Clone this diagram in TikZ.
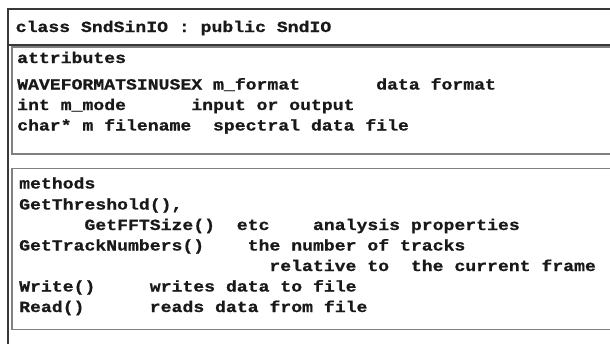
\documentclass[tikz,border=0pt]{standalone}
\usepackage{fontspec}
% Courier-like bold code face, widened to the Courier advance
\newfontfamily\codefont[FakeStretch=1.17,FakeBold=0.8]{Liberation Mono Bold}
\tikzset{
  code/.style={font=\codefont\fontsize{15.5}{18}\selectfont\frenchspacing,
               anchor=base west, inner sep=0pt, text=black!90},
  frameline/.style={draw=black!78, line width=1.1pt},
  boxline/.style={draw=black!50, line width=1.6pt},
}
\begin{document}
\begin{tikzpicture}[x=1pt, y=-1pt]
  \useasboundingbox (0,0) rectangle (610,343);
  \clip (0,0) rectangle (610,343);

  % class frame and title separator
  \draw[frameline] (616,9) -- (8,9) -- (8,349);
  \draw[frameline] (8,45) -- (616,45);

  % attribute and method compartments
  \draw[boxline] (12,46.8) rectangle (620,154);
  \draw[boxline] (12,168.5) rectangle (620,329.5);

  % class header
  \node[code] (title) at (15.5,32) {class SndSinIO : public SndIO};

  % attributes (columns on a 10.88 advance grid)
  \node[code] (attrhead) at (17,63)    {attributes};
  \node[code] (fmt)      at (17,89.5)  {WAVEFORMATSINUSEX m\_format};
  \node[code] (fmtnote)  at (376.0,89.5) {data format};
  \node[code] (mode)     at (17,110)   {int m\_mode};
  \node[code] (modenote) at (191.1,110) {input or output};
  \node[code] (fname)    at (17,130.5) {char* m filename};
  \node[code] (fnamenote) at (212.8,130.5) {spectral data file};

  % methods
  \node[code] (methhead) at (19,188.5) {methods};
  \node[code] (thresh)   at (19,209.5) {GetThreshold(),};
  \node[code] (fft)      at (84.3,230) {GetFFTSize()};
  \node[code] (etc)      at (236.6,230) {etc};
  \node[code] (fftnote)  at (312.8,230) {analysis properties};
  \node[code] (tracks)   at (19,250.5) {GetTrackNumbers()};
  \node[code] (tracknote) at (247.5,250.5) {the number of tracks};
  \node[code] (relnote)  at (269.2,271) {relative to};
  \node[code] (relnote2) at (410.7,271) {the current frame};
  \node[code] (write)    at (19,291.5) {Write()};
  \node[code] (writenote) at (149.6,291.5) {writes data to file};
  \node[code] (read)     at (19,312)   {Read()};
  \node[code] (readnote) at (149.6,312) {reads data from file};
\end{tikzpicture}
\end{document}
